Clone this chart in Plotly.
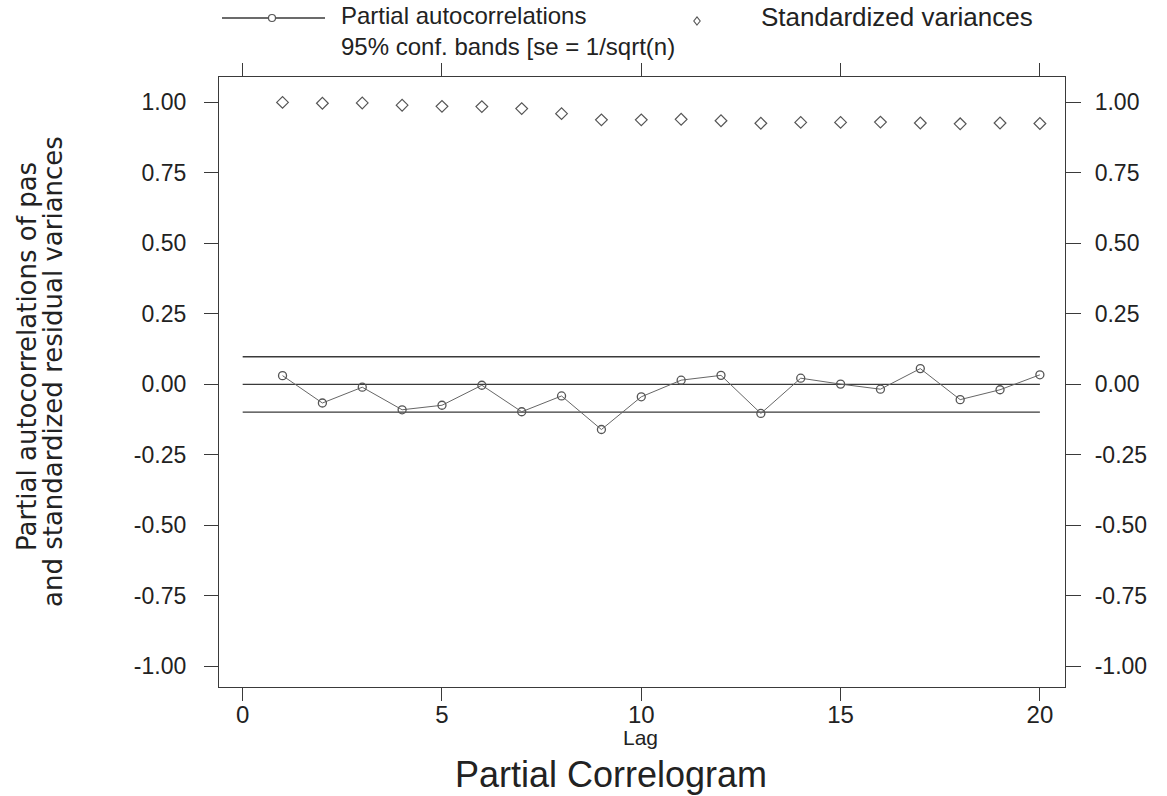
import plotly.graph_objects as go

# ---- data ----
lags = list(range(1, 21))
pac = [0.031, -0.066, -0.010, -0.090, -0.074, -0.003, -0.097, -0.041, -0.160, -0.044,
       0.015, 0.032, -0.103, 0.022, 0.001, -0.017, 0.056, -0.054, -0.019, 0.034]
srv = [1.000, 0.997, 0.998, 0.990, 0.986, 0.985, 0.978, 0.960, 0.938, 0.938,
       0.940, 0.935, 0.926, 0.929, 0.929, 0.930, 0.927, 0.924, 0.927, 0.925]
band_lags = [0, 20]
conf_band = 0.098
x_ticks = [0, 5, 10, 15, 20]
y_ticks = [1.0, 0.75, 0.5, 0.25, 0.0, -0.25, -0.5, -0.75, -1.0]
y_tick_labels = ["1.00", "0.75", "0.50", "0.25", "0.00", "-0.25", "-0.50", "-0.75", "-1.00"]

# ---- layout geometry (pixels) ----
W, H = 1167, 796
L, R, T, B = 219, 1065, 77, 687


def px(x):
    return (x - L) / (R - L)


def py(y):
    return (B - y) / (B - T)


FONT = "Liberation Sans, Arial, Helvetica, sans-serif"
TXT = "#222222"
LINE = "#3a3a3a"
MARK = "#555555"

fig = go.Figure()

for lvl in (conf_band, 0.0, -conf_band):
    fig.add_trace(go.Scatter(
        x=band_lags, y=[lvl, lvl], mode="lines",
        line=dict(color=LINE, width=1.3), showlegend=False, hoverinfo="skip"))

fig.add_trace(go.Scatter(
    x=lags, y=pac, mode="lines+markers", name="Partial autocorrelations",
    line=dict(color="#666666", width=1),
    marker=dict(symbol="circle-open", size=8, color=MARK, line=dict(width=1.3)),
    showlegend=False))

fig.add_trace(go.Scatter(
    x=lags, y=srv, mode="markers", name="Standardized variances", yaxis="y2",
    marker=dict(symbol="diamond-open", size=9, color=MARK, line=dict(width=1.2)),
    showlegend=False))

axis_common = dict(showgrid=False, zeroline=False, showline=True, linecolor=LINE,
                   linewidth=1.2, ticks="outside", tickcolor=LINE, tickwidth=1.2)

fig.update_layout(
    width=W, height=H,
    margin=dict(l=L, r=W - R, t=T, b=H - B, pad=0),
    paper_bgcolor="white", plot_bgcolor="white",
    font=dict(family=FONT, color=TXT),
    xaxis=dict(range=[-0.594, 20.63], tickvals=x_ticks, ticklen=13, mirror="ticks",
               tickfont=dict(size=24, family=FONT, color=TXT), ticklabelstandoff=-7,
               **axis_common),
    yaxis=dict(range=[-1.073, 1.09], tickvals=y_ticks, ticktext=y_tick_labels,
               ticklen=14, tickfont=dict(size=23, family=FONT, color=TXT),
               ticklabelstandoff=13, **axis_common),
    yaxis2=dict(range=[-1.073, 1.09], tickvals=y_ticks, ticktext=y_tick_labels,
                overlaying="y", side="right", ticklen=15,
                tickfont=dict(size=23, family=FONT, color=TXT),
                ticklabelstandoff=9, **axis_common),
    showlegend=False,
)


def note(text, x, y, size, xanchor="center", angle=0, family=FONT):
    return dict(text=text, x=px(x), y=py(y), xref="paper", yref="paper",
                xanchor=xanchor, yanchor="middle", showarrow=False, textangle=angle,
                font=dict(size=size, family=family, color=TXT))


WIDE = "DejaVu Sans, Liberation Sans, sans-serif"
ann = [
    note("Lag", 640, 737, 21),
    note("Partial Correlogram", 611, 774, 36),
    note("Partial autocorrelations of pas", 27, 357, 26, angle=-90, family=WIDE),
    note("and standardized residual variances", 53, 372, 26, angle=-90, family=WIDE),
    # legend (Stata style, drawn above the plot)
    dict(note("Partial autocorrelations<br>95% conf. bands [se = 1/sqrt(n)",
              339, 31, 24, xanchor="left"), align="left"),
    note("Standardized variances", 759, 17, 26, xanchor="left"),
]
fig.update_layout(annotations=ann)

shapes = [
    dict(type="line", xref="paper", yref="paper", x0=px(222), x1=px(325),
         y0=py(18), y1=py(18), line=dict(color=LINE, width=1.3)),
    dict(type="circle", xref="paper", yref="paper", xsizemode="pixel", ysizemode="pixel",
         xanchor=px(272), yanchor=py(18), x0=-3.5, x1=3.5, y0=-3.5, y1=3.5,
         fillcolor="white", line=dict(color=MARK, width=1.2)),
    dict(type="path", xref="paper", yref="paper", xsizemode="pixel", ysizemode="pixel",
         xanchor=px(697), yanchor=py(21), path="M0,-4 L3.2,0 L0,4 L-3.2,0 Z",
         fillcolor="white", line=dict(color=MARK, width=1.1)),
]
fig.update_layout(shapes=shapes)

fig.write_html("out.html")
